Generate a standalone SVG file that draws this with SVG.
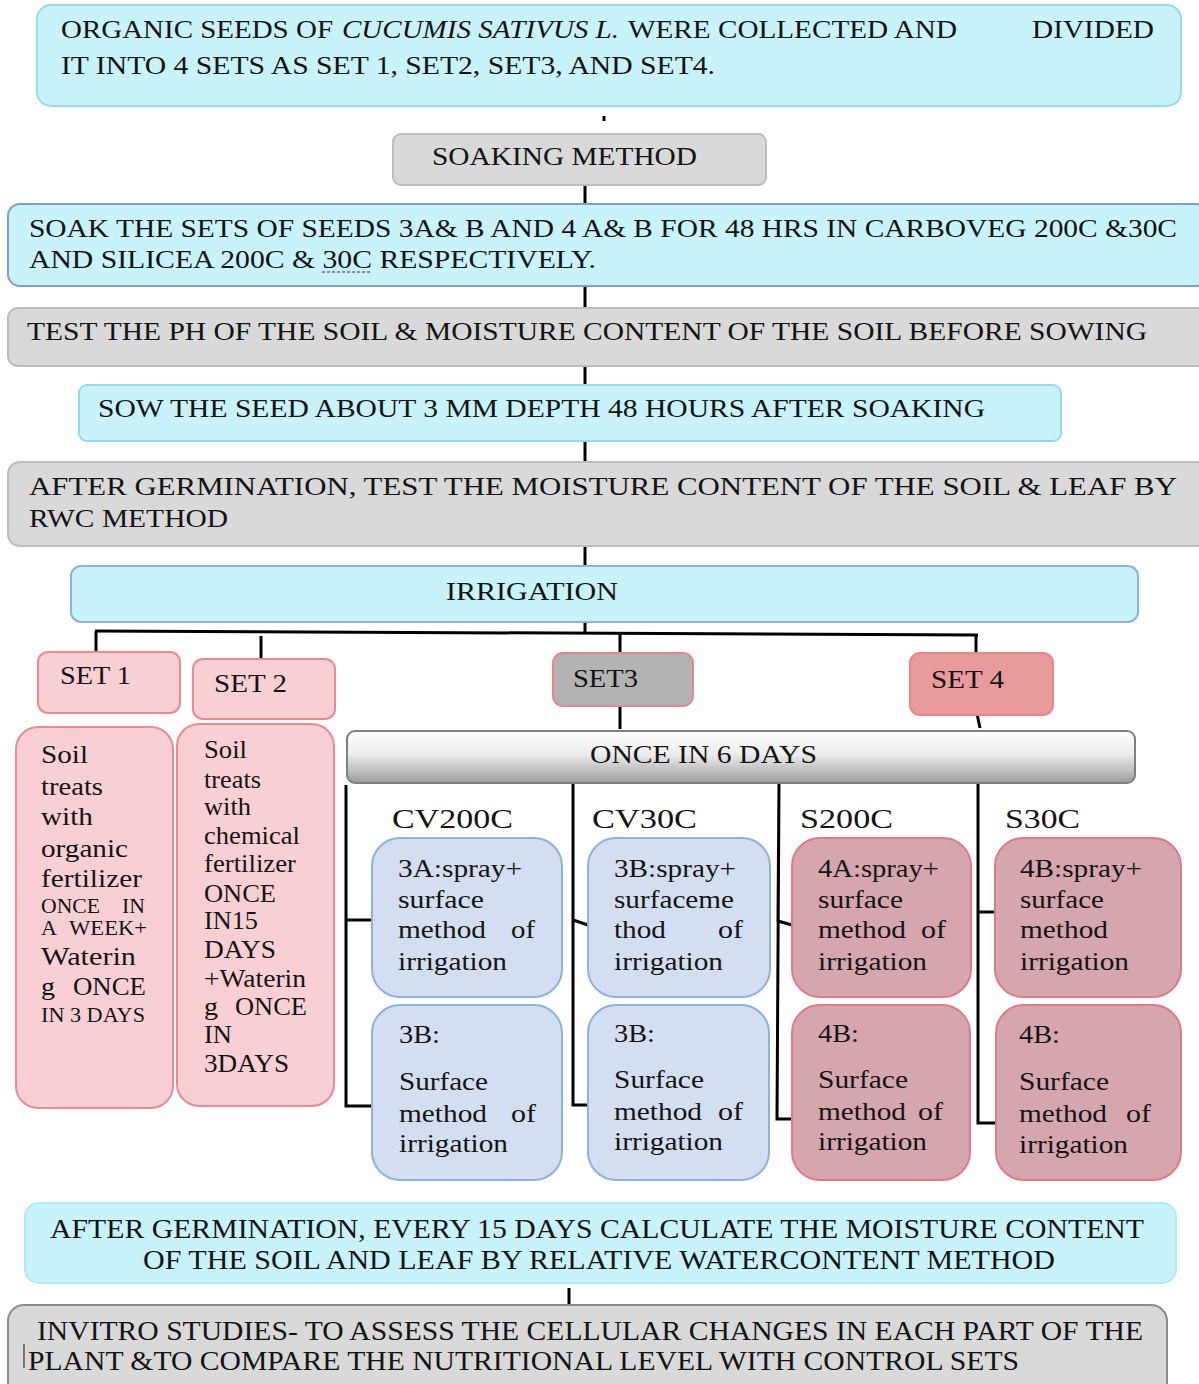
<svg xmlns="http://www.w3.org/2000/svg" width="1199" height="1384" viewBox="0 0 1199 1384" font-family="Liberation Serif">
<defs>
<linearGradient id="gOnce" x1="0" y1="0" x2="0" y2="1">
<stop offset="0" stop-color="#ffffff"/>
<stop offset="0.45" stop-color="#ececec"/>
<stop offset="1" stop-color="#9c9c9c"/>
</linearGradient>
</defs>
<style>
text{fill:#141414;font-size:25px}
.cy{fill:#c9f3fb;stroke-width:2}
.gr{fill:#d9d9d9;stroke:#bdbdbd;stroke-width:2}
.pk{fill:#f8d0d4;stroke:#ec8a92;stroke-width:2}
.bl{fill:#d3dff0;stroke:#8eb2de;stroke-width:2}
.mv{fill:#d5a6ae;stroke:#e27a83;stroke-width:2}
.ln{stroke:#000;stroke-width:3;fill:none}
.sm{font-size:20px}
.lb{font-size:27px}
.bt{font-size:26px}
</style>
<rect width="1199" height="1384" fill="#ffffff"/>

<g id="connectors">
<line class="ln" x1="604" y1="116" x2="604" y2="121" stroke-width="2"/>
<line class="ln" x1="585" y1="186" x2="585" y2="203"/>
<line class="ln" x1="585" y1="287" x2="585" y2="307"/>
<line class="ln" x1="585" y1="366" x2="585" y2="384"/>
<line class="ln" x1="585" y1="442" x2="585" y2="462"/>
<line class="ln" x1="585" y1="547" x2="585" y2="566"/>
<line class="ln" x1="585" y1="623" x2="585" y2="633"/>
<line class="ln" x1="95" y1="631" x2="978" y2="635"/>
<line class="ln" x1="96" y1="631" x2="96" y2="652"/>
<line class="ln" x1="261" y1="636" x2="261" y2="658"/>
<line class="ln" x1="620" y1="633" x2="620" y2="654"/>
<line class="ln" x1="976" y1="634" x2="976" y2="654"/>
<line class="ln" x1="620" y1="705" x2="620" y2="729"/>
<line class="ln" x1="976" y1="709" x2="980" y2="728"/>
<polyline class="ln" points="372,920 346,920 346,785 346,1106 372,1106"/>
<polyline class="ln" points="588,925 573,920 573,781 573,1105 588,1105"/>
<polyline class="ln" points="792,925 778,921 779,782 777,1119 792,1119"/>
<polyline class="ln" points="995,912 978,912 978,783 978,1123 996,1123"/>
<line class="ln" x1="569" y1="1288" x2="569" y2="1305"/>
</g>

<g id="n-collect">
<rect class="cy" x="37" y="5" width="1144" height="101" rx="14" stroke="#97d9ef"/>
<text x="61" y="38" textLength="272" lengthAdjust="spacingAndGlyphs">ORGANIC SEEDS OF</text>
<text x="342" y="38" font-style="italic" textLength="277" lengthAdjust="spacingAndGlyphs">CUCUMIS SATIVUS L.</text>
<text x="628" y="38" textLength="329" lengthAdjust="spacingAndGlyphs">WERE COLLECTED AND</text>
<text x="1032" y="38" textLength="122" lengthAdjust="spacingAndGlyphs">DIVIDED</text>
<text x="61" y="74" textLength="654" lengthAdjust="spacingAndGlyphs">IT INTO 4 SETS AS SET 1, SET2, SET3, AND SET4.</text>
</g>

<g id="n-soaking">
<rect class="gr" x="393" y="134" width="373" height="51" rx="8"/>
<text x="432" y="165" textLength="265" lengthAdjust="spacingAndGlyphs">SOAKING METHOD</text>
</g>

<g id="n-soak">
<rect class="cy" x="8" y="204" width="1200" height="82" rx="12" stroke="#7c9fd3"/>
<text x="29" y="237" textLength="1148" lengthAdjust="spacingAndGlyphs">SOAK THE SETS OF SEEDS 3A&amp; B AND 4 A&amp; B FOR 48 HRS IN CARBOVEG 200C &amp;30C</text>
<text x="29" y="268" textLength="567" lengthAdjust="spacingAndGlyphs">AND SILICEA 200C &amp; 30C RESPECTIVELY.</text>
<line x1="322" y1="272" x2="370" y2="272" stroke="#6a5cf0" stroke-width="1.5" stroke-dasharray="3,2"/>
</g>

<g id="n-test">
<rect class="gr" x="8" y="308" width="1200" height="58" rx="10"/>
<text x="27" y="340" textLength="1120" lengthAdjust="spacingAndGlyphs">TEST THE PH OF THE SOIL &amp; MOISTURE CONTENT OF THE SOIL BEFORE SOWING</text>
</g>

<g id="n-sow">
<rect class="cy" x="79" y="385" width="982" height="56" rx="8" stroke="#8fdcef"/>
<text x="98" y="417" textLength="887" lengthAdjust="spacingAndGlyphs">SOW THE SEED ABOUT 3 MM DEPTH 48 HOURS AFTER SOAKING</text>
</g>

<g id="n-germ">
<rect class="gr" x="8" y="462" width="1200" height="84" rx="12"/>
<text x="29" y="495" textLength="1148" lengthAdjust="spacingAndGlyphs">AFTER GERMINATION, TEST THE MOISTURE CONTENT OF THE SOIL &amp; LEAF BY</text>
<text x="29" y="527" textLength="199" lengthAdjust="spacingAndGlyphs">RWC METHOD</text>
</g>

<g id="n-irrigation">
<rect class="cy" x="71" y="566" width="1067" height="56" rx="10" stroke="#8fb0dc"/>
<text x="446" y="600" textLength="172" lengthAdjust="spacingAndGlyphs">IRRIGATION</text>
</g>

<g id="n-set1">
<rect class="pk" x="38" y="652" width="142" height="61" rx="10"/>
<text x="60" y="684" textLength="71" lengthAdjust="spacingAndGlyphs">SET 1</text>
</g>
<g id="n-set2">
<rect class="pk" x="193" y="659" width="142" height="60" rx="10"/>
<text x="214" y="692" textLength="73" lengthAdjust="spacingAndGlyphs">SET 2</text>
</g>
<g id="n-set3">
<rect x="553" y="653" width="140" height="53" rx="10" fill="#b3b3b3" stroke="#e8868c" stroke-width="2"/>
<text x="573" y="687" textLength="65" lengthAdjust="spacingAndGlyphs">SET3</text>
</g>
<g id="n-set4">
<rect x="910" y="653" width="143" height="62" rx="10" fill="#e99b9b" stroke="#e8868c" stroke-width="2"/>
<text x="931" y="688" textLength="73" lengthAdjust="spacingAndGlyphs">SET 4</text>
</g>

<g id="n-set1-detail">
<rect class="pk" x="16" y="727" width="157" height="381" rx="22" stroke="#f4b183"/>
<text x="41" y="763" textLength="47" lengthAdjust="spacingAndGlyphs">Soil</text>
<text x="41" y="795" textLength="62" lengthAdjust="spacingAndGlyphs">treats</text>
<text x="41" y="825" textLength="52" lengthAdjust="spacingAndGlyphs">with</text>
<text x="41" y="857" textLength="87" lengthAdjust="spacingAndGlyphs">organic</text>
<text x="41" y="887" textLength="101" lengthAdjust="spacingAndGlyphs">fertilizer</text>
<text class="sm" x="41" y="913" textLength="59" lengthAdjust="spacingAndGlyphs">ONCE</text>
<text class="sm" x="122" y="913" textLength="23" lengthAdjust="spacingAndGlyphs">IN</text>
<text class="sm" x="41" y="935" textLength="16" lengthAdjust="spacingAndGlyphs">A</text>
<text class="sm" x="69" y="935" textLength="78" lengthAdjust="spacingAndGlyphs">WEEK+</text>
<text x="41" y="965" textLength="95" lengthAdjust="spacingAndGlyphs">Waterin</text>
<text x="41" y="995" textLength="14" lengthAdjust="spacingAndGlyphs">g</text>
<text x="73" y="995" textLength="73" lengthAdjust="spacingAndGlyphs">ONCE</text>
<text class="sm" x="41" y="1022" textLength="104" lengthAdjust="spacingAndGlyphs">IN 3 DAYS</text>
</g>

<g id="n-set2-detail">
<rect class="pk" x="177" y="724" width="157" height="382" rx="22"/>
<text x="204" y="758" textLength="43" lengthAdjust="spacingAndGlyphs">Soil</text>
<text x="204" y="788" textLength="57" lengthAdjust="spacingAndGlyphs">treats</text>
<text x="204" y="815" textLength="47" lengthAdjust="spacingAndGlyphs">with</text>
<text x="204" y="844" textLength="96" lengthAdjust="spacingAndGlyphs">chemical</text>
<text x="204" y="872" textLength="92" lengthAdjust="spacingAndGlyphs">fertilizer</text>
<text x="204" y="902" textLength="72" lengthAdjust="spacingAndGlyphs">ONCE</text>
<text x="204" y="929" textLength="54" lengthAdjust="spacingAndGlyphs">IN15</text>
<text x="204" y="958" textLength="72" lengthAdjust="spacingAndGlyphs">DAYS</text>
<text x="204" y="987" textLength="102" lengthAdjust="spacingAndGlyphs">+Waterin</text>
<text x="204" y="1015" textLength="14" lengthAdjust="spacingAndGlyphs">g</text>
<text x="235" y="1015" textLength="72" lengthAdjust="spacingAndGlyphs">ONCE</text>
<text x="204" y="1043" textLength="28" lengthAdjust="spacingAndGlyphs">IN</text>
<text x="204" y="1072" textLength="85" lengthAdjust="spacingAndGlyphs">3DAYS</text>
</g>

<g id="n-once">
<rect x="347" y="731" width="788" height="52" rx="8" fill="url(#gOnce)" stroke="#7f7f7f" stroke-width="2"/>
<text x="590" y="763" textLength="227" lengthAdjust="spacingAndGlyphs">ONCE IN 6 DAYS</text>
</g>

<g id="labels">
<text class="lb" x="392" y="828" textLength="121" lengthAdjust="spacingAndGlyphs">CV200C</text>
<text class="lb" x="592" y="828" textLength="105" lengthAdjust="spacingAndGlyphs">CV30C</text>
<text class="lb" x="800" y="828" textLength="93" lengthAdjust="spacingAndGlyphs">S200C</text>
<text class="lb" x="1005" y="828" textLength="75" lengthAdjust="spacingAndGlyphs">S30C</text>
</g>

<g id="n-3a">
<rect class="bl" x="372" y="838" width="190" height="159" rx="28"/>
<text class="bt" x="398" y="877" textLength="124" lengthAdjust="spacingAndGlyphs">3A:spray+</text>
<text class="bt" x="398" y="908" textLength="86" lengthAdjust="spacingAndGlyphs">surface</text>
<text class="bt" x="398" y="938" textLength="88" lengthAdjust="spacingAndGlyphs">method</text>
<text class="bt" x="511" y="938" textLength="24" lengthAdjust="spacingAndGlyphs">of</text>
<text class="bt" x="398" y="970" textLength="109" lengthAdjust="spacingAndGlyphs">irrigation</text>
</g>
<g id="n-3b-spray">
<rect class="bl" x="588" y="838" width="182" height="159" rx="28"/>
<text class="bt" x="614" y="877" textLength="122" lengthAdjust="spacingAndGlyphs">3B:spray+</text>
<text class="bt" x="614" y="908" textLength="120" lengthAdjust="spacingAndGlyphs">surfaceme</text>
<text class="bt" x="614" y="938" textLength="52" lengthAdjust="spacingAndGlyphs">thod</text>
<text class="bt" x="718" y="938" textLength="25" lengthAdjust="spacingAndGlyphs">of</text>
<text class="bt" x="614" y="970" textLength="109" lengthAdjust="spacingAndGlyphs">irrigation</text>
</g>
<g id="n-4a">
<rect class="mv" x="792" y="838" width="179" height="159" rx="28"/>
<text class="bt" x="818" y="877" textLength="121" lengthAdjust="spacingAndGlyphs">4A:spray+</text>
<text class="bt" x="818" y="908" textLength="85" lengthAdjust="spacingAndGlyphs">surface</text>
<text class="bt" x="818" y="938" textLength="88" lengthAdjust="spacingAndGlyphs">method</text>
<text class="bt" x="921" y="938" textLength="25" lengthAdjust="spacingAndGlyphs">of</text>
<text class="bt" x="818" y="970" textLength="109" lengthAdjust="spacingAndGlyphs">irrigation</text>
</g>
<g id="n-4b-spray">
<rect class="mv" x="995" y="838" width="186" height="159" rx="28"/>
<text class="bt" x="1020" y="877" textLength="122" lengthAdjust="spacingAndGlyphs">4B:spray+</text>
<text class="bt" x="1020" y="908" textLength="84" lengthAdjust="spacingAndGlyphs">surface</text>
<text class="bt" x="1020" y="938" textLength="88" lengthAdjust="spacingAndGlyphs">method</text>
<text class="bt" x="1020" y="970" textLength="109" lengthAdjust="spacingAndGlyphs">irrigation</text>
</g>

<g id="n-3b-cv200">
<rect class="bl" x="372" y="1005" width="190" height="175" rx="28"/>
<text class="bt" x="399" y="1043" textLength="41" lengthAdjust="spacingAndGlyphs">3B:</text>
<text class="bt" x="399" y="1090" textLength="89" lengthAdjust="spacingAndGlyphs">Surface</text>
<text class="bt" x="399" y="1122" textLength="88" lengthAdjust="spacingAndGlyphs">method</text>
<text class="bt" x="511" y="1122" textLength="25" lengthAdjust="spacingAndGlyphs">of</text>
<text class="bt" x="399" y="1152" textLength="109" lengthAdjust="spacingAndGlyphs">irrigation</text>
</g>
<g id="n-3b-cv30">
<rect class="bl" x="588" y="1005" width="181" height="175" rx="28"/>
<text class="bt" x="614" y="1042" textLength="41" lengthAdjust="spacingAndGlyphs">3B:</text>
<text class="bt" x="614" y="1088" textLength="90" lengthAdjust="spacingAndGlyphs">Surface</text>
<text class="bt" x="614" y="1120" textLength="88" lengthAdjust="spacingAndGlyphs">method</text>
<text class="bt" x="718" y="1120" textLength="25" lengthAdjust="spacingAndGlyphs">of</text>
<text class="bt" x="614" y="1150" textLength="109" lengthAdjust="spacingAndGlyphs">irrigation</text>
</g>
<g id="n-4b-s200">
<rect class="mv" x="792" y="1005" width="178" height="175" rx="28"/>
<text class="bt" x="818" y="1042" textLength="41" lengthAdjust="spacingAndGlyphs">4B:</text>
<text class="bt" x="818" y="1088" textLength="90" lengthAdjust="spacingAndGlyphs">Surface</text>
<text class="bt" x="818" y="1120" textLength="88" lengthAdjust="spacingAndGlyphs">method</text>
<text class="bt" x="918" y="1120" textLength="25" lengthAdjust="spacingAndGlyphs">of</text>
<text class="bt" x="818" y="1150" textLength="109" lengthAdjust="spacingAndGlyphs">irrigation</text>
</g>
<g id="n-4b-s30">
<rect class="mv" x="996" y="1005" width="185" height="175" rx="28"/>
<text class="bt" x="1019" y="1043" textLength="41" lengthAdjust="spacingAndGlyphs">4B:</text>
<text class="bt" x="1019" y="1090" textLength="90" lengthAdjust="spacingAndGlyphs">Surface</text>
<text class="bt" x="1019" y="1122" textLength="88" lengthAdjust="spacingAndGlyphs">method</text>
<text class="bt" x="1126" y="1122" textLength="25" lengthAdjust="spacingAndGlyphs">of</text>
<text class="bt" x="1019" y="1153" textLength="109" lengthAdjust="spacingAndGlyphs">irrigation</text>
</g>

<g id="n-every15">
<rect class="cy" x="25" y="1203" width="1151" height="80" rx="14" stroke="#b3e9f4"/>
<text class="lb" x="50" y="1238" textLength="1094" lengthAdjust="spacingAndGlyphs">AFTER GERMINATION, EVERY 15 DAYS CALCULATE THE MOISTURE CONTENT</text>
<text class="lb" x="143" y="1269" textLength="912" lengthAdjust="spacingAndGlyphs">OF THE SOIL AND LEAF BY RELATIVE WATERCONTENT METHOD</text>
</g>

<g id="n-invitro">
<rect x="8" y="1305" width="1159" height="100" rx="16" fill="#d9d9d9" stroke="#8c8c8c" stroke-width="2"/>
<text class="lb" x="37" y="1340" textLength="1106" lengthAdjust="spacingAndGlyphs">INVITRO STUDIES- TO ASSESS THE CELLULAR CHANGES IN EACH PART OF THE</text>
<text class="lb" x="28" y="1370" textLength="991" lengthAdjust="spacingAndGlyphs">PLANT &amp;TO COMPARE THE NUTRITIONAL LEVEL WITH CONTROL SETS</text>
<line x1="24" y1="1344" x2="24" y2="1368" stroke="#333" stroke-width="1.2"/>
</g>
</svg>
